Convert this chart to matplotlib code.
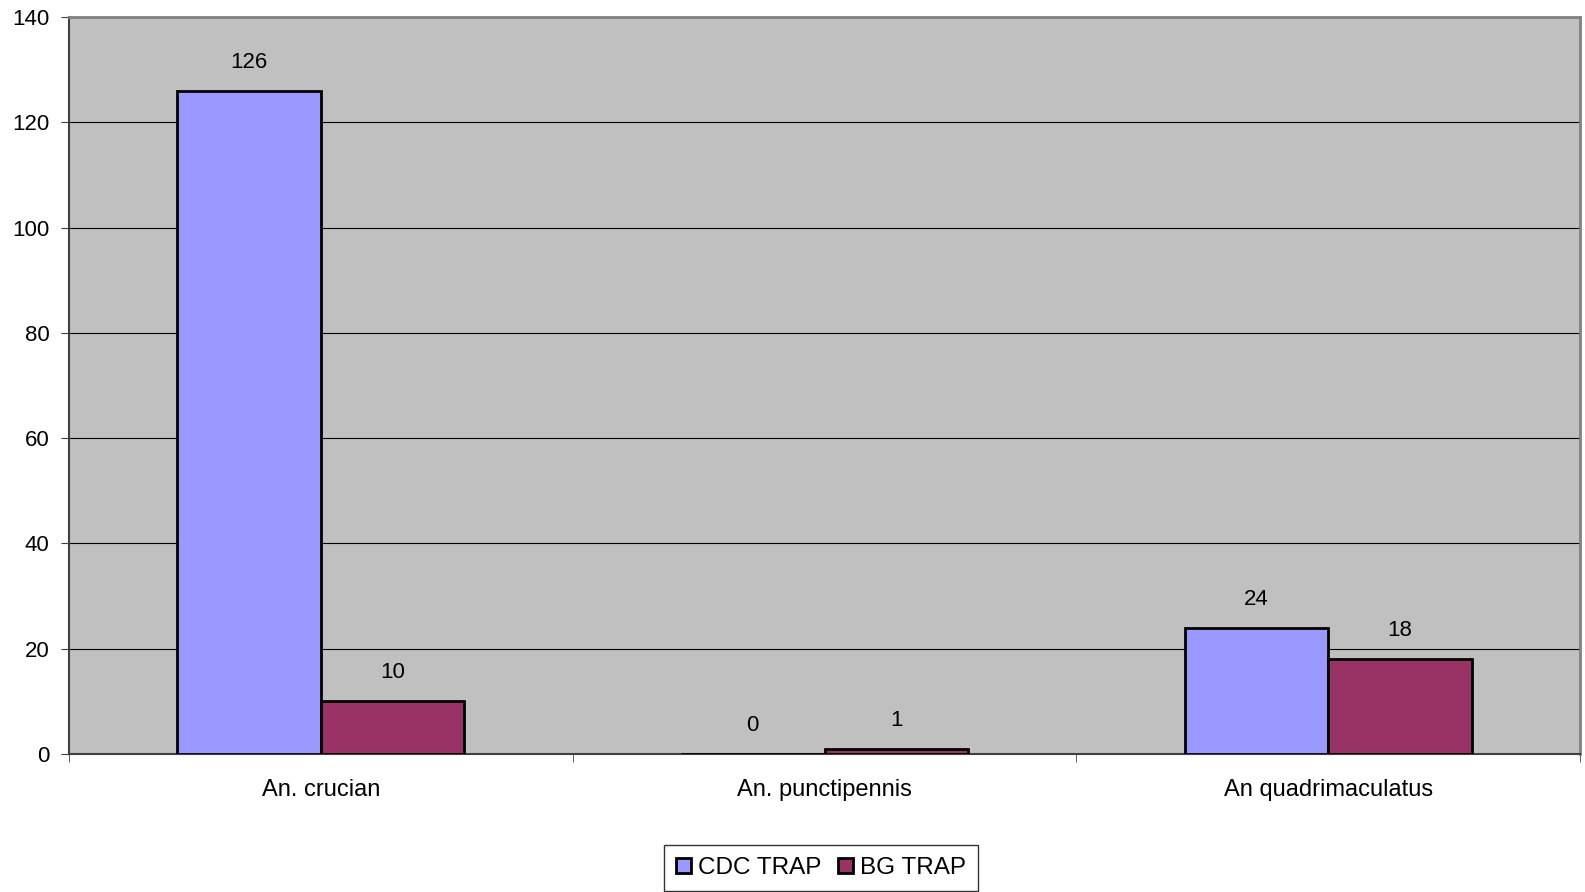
import numpy as np
import matplotlib.pyplot as plt

species = ['An. crucian', 'An. punctipennis', 'An quadrimaculatus']
cdc_trap = [126, 0, 24]
bg_trap = [10, 1, 18]

plt.rcParams['font.family'] = ['Liberation Sans', 'DejaVu Sans']
plt.rcParams['font.size'] = 16

fig = plt.figure(figsize=(15.85, 8.92), dpi=100)
ax = fig.add_axes([0.0435, 0.1547, 0.9535, 0.8263])
ax.set_facecolor('#c0c0c0')

x = np.arange(len(species))
width = 0.285
b1 = ax.bar(x - width / 2, cdc_trap, width, color='#9999ff', edgecolor='black',
            linewidth=2, label='CDC TRAP', zorder=3)
b2 = ax.bar(x + width / 2, bg_trap, width, color='#993366', edgecolor='black',
            linewidth=2, label='BG TRAP', zorder=3)

for bars, vals in [(b1, cdc_trap), (b2, bg_trap)]:
    for rect, v in zip(bars, vals):
        ax.annotate(str(v), (rect.get_x() + rect.get_width() / 2, v),
                    xytext=(0, 13), textcoords='offset points',
                    ha='center', va='bottom', fontsize=16)

ax.set_xlim(-0.5, 2.5)
ax.set_ylim(0, 140)
ax.set_yticks(range(0, 141, 20))
ax.grid(axis='y', color='black', linewidth=0.8, zorder=1)
ax.set_axisbelow(True)

ax.set_xticks(x, species, fontsize=17)
ax.tick_params(axis='x', length=0, pad=18)
ax.set_xticks([-0.5, 0.5, 1.5, 2.5], minor=True)
ax.tick_params(axis='x', which='minor', length=6, direction='out', color='#404040')
ax.tick_params(axis='y', length=6, direction='out', color='#404040', pad=8)

for s in ['top', 'right']:
    ax.spines[s].set_color('#808080')
    ax.spines[s].set_linewidth(2)
for s in ['left', 'bottom']:
    ax.spines[s].set_color('#404040')
    ax.spines[s].set_linewidth(1.5)

leg = fig.legend(loc='center', bbox_to_anchor=(0.518, 0.027), ncols=2,
                 frameon=True, fancybox=False, edgecolor='black',
                 handlelength=0.6, handleheight=0.6, handletextpad=0.3,
                 columnspacing=0.7, borderpad=0.5, borderaxespad=0,
                 fontsize=17.5)
leg.get_frame().set_linewidth(1)

fig.savefig('out.png', dpi=100)
